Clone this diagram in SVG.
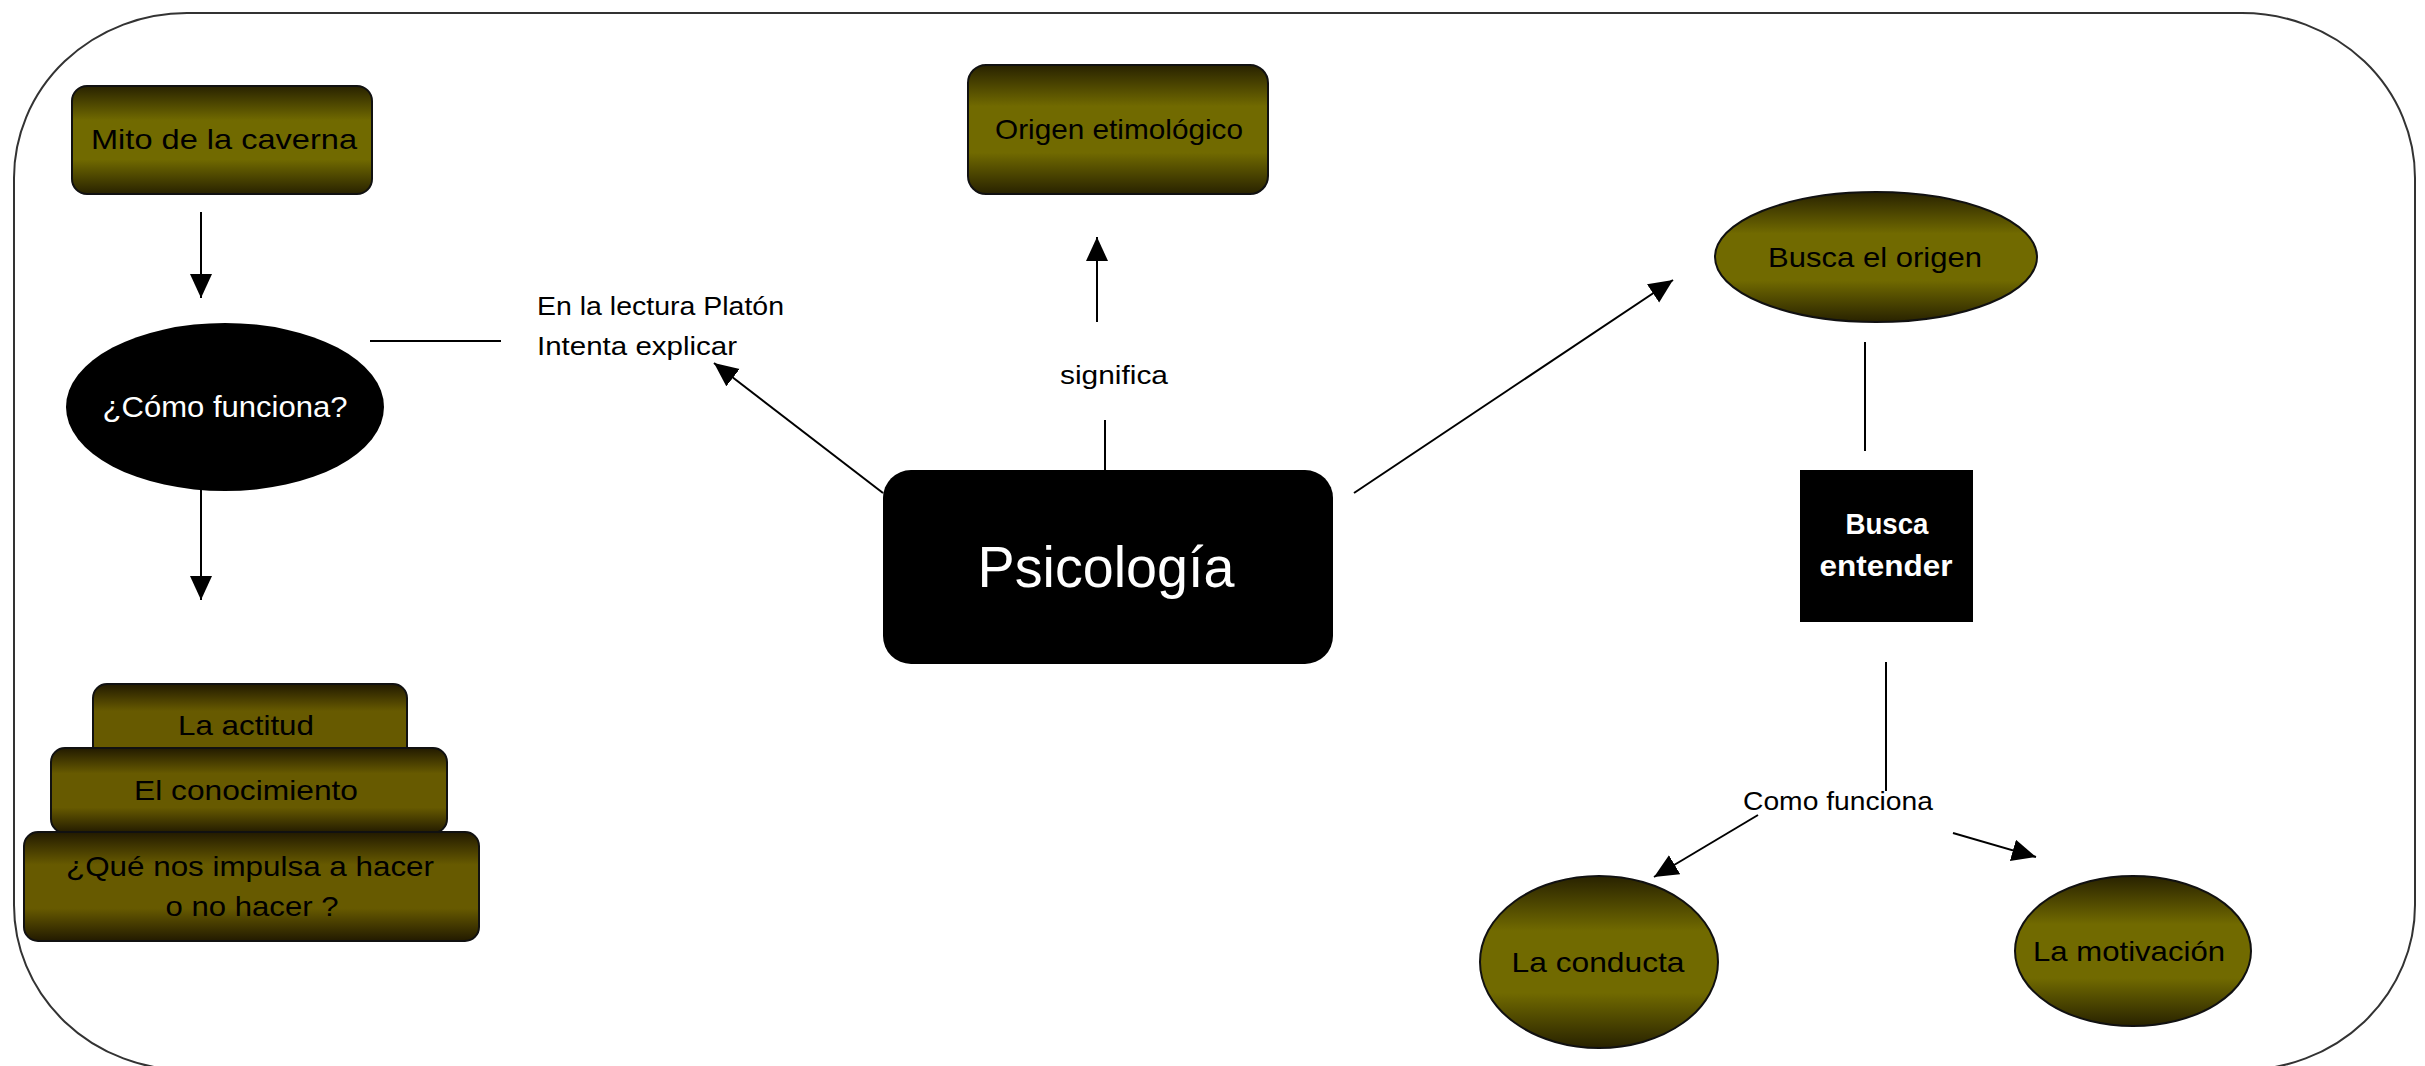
<svg xmlns="http://www.w3.org/2000/svg" width="2425" height="1066" viewBox="0 0 2425 1066">
  <defs>
    <linearGradient id="olive" x1="0" y1="0" x2="0" y2="1">
      <stop offset="0" stop-color="#282200"/>
      <stop offset="0.32" stop-color="#716a00"/>
      <stop offset="0.68" stop-color="#716a00"/>
      <stop offset="1" stop-color="#282200"/>
    </linearGradient>
    <linearGradient id="olive2" x1="0" y1="0" x2="0" y2="1">
      <stop offset="0" stop-color="#221a00"/>
      <stop offset="0.3" stop-color="#675a00"/>
      <stop offset="0.7" stop-color="#675a00"/>
      <stop offset="1" stop-color="#221a00"/>
    </linearGradient>
    <marker id="arrow" markerUnits="userSpaceOnUse" markerWidth="26" markerHeight="24" refX="24" refY="11" orient="auto">
      <path d="M0,0 L24,11 L0,22 Z" fill="#000"/>
    </marker>
    <style>
      .lbl { font-family: "Liberation Sans", Arial, sans-serif; font-size: 28px; fill: #000; text-anchor: middle; }
      .wlbl { font-family: "Liberation Sans", Arial, sans-serif; font-size: 30px; fill: #fff; text-anchor: middle; }
      .free { font-family: "Liberation Sans", Arial, sans-serif; font-size: 26px; fill: #000; }
      .node { fill: url(#olive); stroke: #111; stroke-width: 2; }
      .stack { fill: url(#olive2); stroke: #111; stroke-width: 2; }
      .blk { fill: #000; }
      .con { stroke: #000; stroke-width: 2; fill: none; }
      .arr { stroke: #000; stroke-width: 2; fill: none; marker-end: url(#arrow); }
    </style>
  </defs>

  <rect id="frame" x="14" y="13" width="2401" height="1057" rx="173" ry="165" fill="#fff" stroke="#333" stroke-width="2"/>

  <g id="connectors">
    <line class="arr" x1="201" y1="212" x2="201" y2="298"/>
    <line class="arr" x1="201" y1="490" x2="201" y2="600"/>
    <line class="con" x1="370" y1="341" x2="501" y2="341"/>
    <line class="arr" x1="883" y1="493" x2="714" y2="363"/>
    <line class="con" x1="1105" y1="470" x2="1105" y2="420"/>
    <line class="arr" x1="1097" y1="322" x2="1097" y2="237"/>
    <line class="arr" x1="1354" y1="493" x2="1673" y2="280"/>
    <line class="con" x1="1865" y1="342" x2="1865" y2="451"/>
    <line class="con" x1="1886" y1="662" x2="1886" y2="791"/>
    <line class="arr" x1="1758" y1="815" x2="1654" y2="877"/>
    <line class="arr" x1="1953" y1="833" x2="2036" y2="857"/>
    <text class="free" x="537" y="315" textLength="247" lengthAdjust="spacingAndGlyphs">En la lectura Platón</text>
    <text class="free" x="537" y="355" textLength="200" lengthAdjust="spacingAndGlyphs">Intenta explicar</text>
    <text class="free" x="1114" y="384" text-anchor="middle" textLength="108" lengthAdjust="spacingAndGlyphs">significa</text>
    <text class="free" x="1838" y="810" text-anchor="middle" textLength="190" lengthAdjust="spacingAndGlyphs">Como funciona</text>
  </g>

  <g id="mito">
    <rect class="node" x="72" y="86" width="300" height="108" rx="15"/>
    <text class="lbl" x="224" y="149" textLength="266" lengthAdjust="spacingAndGlyphs">Mito de la caverna</text>
  </g>

  <g id="como">
    <ellipse class="blk" cx="225" cy="407" rx="159" ry="84"/>
    <text class="wlbl" x="225" y="417" textLength="245" lengthAdjust="spacingAndGlyphs">¿Cómo funciona?</text>
  </g>

  <g id="actitud">
    <rect class="stack" x="93" y="684" width="314" height="90" rx="14"/>
    <text class="lbl" x="246" y="735" textLength="136" lengthAdjust="spacingAndGlyphs">La actitud</text>
  </g>
  <g id="conocimiento">
    <rect class="stack" x="51" y="748" width="396" height="85" rx="14"/>
    <text class="lbl" x="246" y="800" textLength="224" lengthAdjust="spacingAndGlyphs">El conocimiento</text>
  </g>
  <g id="impulsa">
    <rect class="stack" x="24" y="832" width="455" height="109" rx="14"/>
    <text class="lbl" x="250" y="876" textLength="368" lengthAdjust="spacingAndGlyphs">¿Qué nos impulsa a hacer</text>
    <text class="lbl" x="252" y="916" textLength="173" lengthAdjust="spacingAndGlyphs">o no hacer ?</text>
  </g>

  <g id="origen">
    <rect class="node" x="968" y="65" width="300" height="129" rx="18"/>
    <text class="lbl" x="1119" y="139" textLength="248" lengthAdjust="spacingAndGlyphs">Origen etimológico</text>
  </g>

  <g id="psicologia">
    <rect class="blk" x="883" y="470" width="450" height="194" rx="28"/>
    <text x="1106" y="587" text-anchor="middle" font-family="Liberation Sans, Arial, sans-serif" font-size="58" fill="#fff" textLength="257" lengthAdjust="spacingAndGlyphs">Psicología</text>
  </g>

  <g id="buscaorigen">
    <ellipse class="node" cx="1876" cy="257" rx="161" ry="65"/>
    <text class="lbl" x="1875" y="267" textLength="214" lengthAdjust="spacingAndGlyphs">Busca el origen</text>
  </g>

  <g id="buscaentender">
    <rect class="blk" x="1800" y="470" width="173" height="152"/>
    <text class="wlbl" x="1887" y="534" font-size="28" font-weight="bold" textLength="83" lengthAdjust="spacingAndGlyphs">Busca</text>
    <text class="wlbl" x="1886" y="576" font-size="28" font-weight="bold" textLength="133" lengthAdjust="spacingAndGlyphs">entender</text>
  </g>

  <g id="conducta">
    <ellipse class="node" cx="1599" cy="962" rx="119" ry="86"/>
    <text class="lbl" x="1598" y="972" textLength="173" lengthAdjust="spacingAndGlyphs">La conducta</text>
  </g>

  <g id="motivacion">
    <ellipse class="node" cx="2133" cy="951" rx="118" ry="75"/>
    <text class="lbl" x="2129" y="961" textLength="192" lengthAdjust="spacingAndGlyphs">La motivación</text>
  </g>
</svg>
